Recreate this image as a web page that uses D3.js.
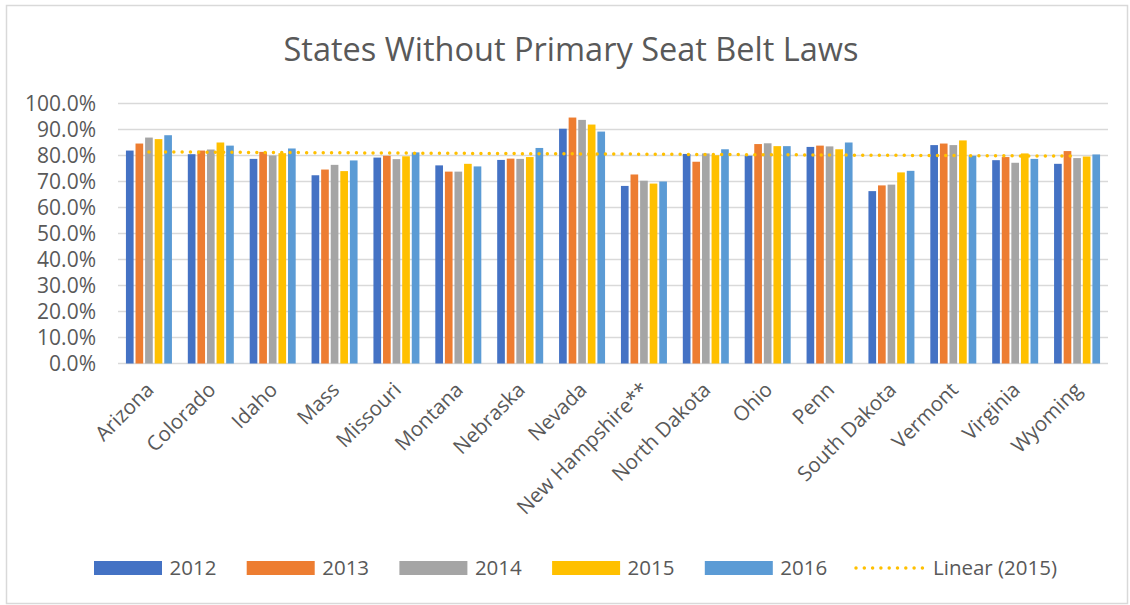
<!DOCTYPE html>
<html>
<head>
<meta charset="utf-8">
<script src="https://cdnjs.cloudflare.com/ajax/libs/d3/7.8.5/d3.min.js"></script>
<style>
	body { margin: 0; background: #fff; }
	text { font-family: "Open Sans", sans-serif; fill: #595959; }
</style>
</head>
<body>
<script>
// data (percent belted)
var states = ["Arizona", "Colorado", "Idaho", "Mass", "Missouri", "Montana", "Nebraska", "Nevada",
	"New Hampshire**", "North Dakota", "Ohio", "Penn", "South Dakota", "Vermont", "Virginia", "Wyoming"]
var years = ["2012", "2013", "2014", "2015", "2016"]
var colors = ["#4472C4", "#ED7D31", "#A5A5A5", "#FFC000", "#5B9BD5"]

var v2012 = [81.9, 80.5, 78.7, 72.4, 79.2, 76.2, 78.3, 90.3, 68.3, 80.6, 79.9, 83.3, 66.3, 84.0, 78.2, 76.8]
var v2013 = [84.6, 81.9, 81.4, 74.6, 79.9, 73.8, 78.8, 94.6, 72.7, 77.6, 84.4, 83.8, 68.5, 84.6, 79.4, 81.7]
var v2014 = [86.9, 82.3, 80.0, 76.4, 78.6, 73.8, 78.7, 93.7, 70.3, 80.8, 84.7, 83.5, 68.8, 84.0, 77.2, 79.0]
var v2015 = [86.3, 85.0, 80.9, 74.0, 79.7, 76.8, 79.4, 91.9, 69.2, 80.1, 83.6, 82.4, 73.5, 85.8, 80.8, 79.6]
var v2016 = [87.8, 83.8, 82.7, 78.1, 81.2, 75.8, 82.9, 89.2, 70.0, 82.4, 83.6, 85.0, 74.1, 79.9, 78.7, 80.4]
var yTicks = [0, 10, 20, 30, 40, 50, 60, 70, 80, 90, 100]

var series = [v2012, v2013, v2014, v2015, v2016]

var w = 1130
var h = 605

var svg = d3.select("body")
	.append("svg")
	.attr("width", w)
	.attr("height", h)

// chart frame
svg.append("rect")
	.attr("x", 6.5).attr("y", 5.5)
	.attr("width", 1121).attr("height", 598)
	.attr("fill", "#fff")
	.attr("stroke", "#d9d9d9")
	.attr("stroke-width", 1.5)

svg.append("text")
	.attr("x", 571).attr("y", 61)
	.attr("text-anchor", "middle")
	.style("font-size", "32.5px")
	.text("States Without Primary Seat Belt Laws")

var x = d3.scaleBand().domain(states).range([118, 1108]).padding(0)
var cw = x.bandwidth()
var xi = d3.scaleBand().domain(years).range([cw / 2 - 23, cw / 2 + 23]).paddingInner(0.2)
var y = d3.scaleLinear().domain([0, 100]).range([363.5, 103.5])

// gridlines
svg.append("g").selectAll("line")
	.data(yTicks)
	.enter()
	.append("line")
	.attr("x1", 118).attr("x2", 1108)
	.attr("y1", function(d){ return y(d) })
	.attr("y2", function(d){ return y(d) })
	.attr("stroke", "#d9d9d9")
	.attr("stroke-width", 1.5)

// y axis labels
var yAxis = d3.axisLeft(y)
	.tickValues(yTicks)
	.tickSize(0)
	.tickPadding(0)
	.tickFormat(function(d){ return d3.format(".1f")(d) + "%" })
var gy = svg.append("g").attr("transform", "translate(96,0)").call(yAxis)
gy.select(".domain").remove()
gy.selectAll("text").style("font-size", "21px").attr("fill", "#595959")

// bars
var groups = svg.append("g").selectAll("g")
	.data(states)
	.enter()
	.append("g")
	.attr("transform", function(d){ return "translate(" + x(d) + ",0)" })

groups.selectAll("rect")
	.data(function(d, i){ return years.map(function(yr, k){ return {year: yr, k: k, v: series[k][i]} }) })
	.enter()
	.append("rect")
	.attr("x", function(d){ return xi(d.year) })
	.attr("y", function(d){ return y(d.v) })
	.attr("width", xi.bandwidth())
	.attr("height", function(d){ return y(0) - y(d.v) })
	.attr("fill", function(d){ return colors[d.k] })

// x axis labels
svg.append("g").selectAll("text")
	.data(states)
	.enter()
	.append("text")
	.attr("text-anchor", "end")
	.attr("transform", function(d){
		return "translate(" + (x(d) + cw / 2 + 1) + ",386) rotate(-45)"
	})
	.attr("dy", "0.35em")
	.style("font-size", "20.5px")
	.text(function(d){ return d })

// linear trendline of 2015
var n = v2015.length
var mx = d3.mean(v2015, function(d, i){ return i + 1 })
var my = d3.mean(v2015)
var sxy = 0, sxx = 0
v2015.forEach(function(d, i){
	sxy += (i + 1 - mx) * (d - my)
	sxx += (i + 1 - mx) * (i + 1 - mx)
})
var slope = sxy / sxx
var icpt = my - slope * mx
var trend = [1, n].map(function(t){ return {s: states[t - 1], v: icpt + slope * t} })

svg.append("path")
	.datum(trend)
	.attr("d", d3.line()
		.x(function(d){ return x(d.s) + cw / 2 })
		.y(function(d){ return y(d.v) }))
	.attr("fill", "none")
	.attr("stroke", "#FFC000")
	.attr("stroke-width", 3.5)
	.attr("stroke-linecap", "round")
	.attr("stroke-dasharray", "0,8.3")

// legend
var legend = svg.append("g")
var lx = d3.scaleLinear().domain([0, 1]).range([94, 246.7])
years.forEach(function(yr, k){
	var g = legend.append("g").attr("transform", "translate(" + lx(k) + ",561)")
	g.append("rect").attr("width", 68).attr("height", 14).attr("fill", colors[k])
	g.append("text").attr("x", 75.5).attr("y", 7).attr("dy", "0.35em")
		.style("font-size", "20.5px").text(yr)
})
var lg = legend.append("g").attr("transform", "translate(856,568)")
lg.append("line").attr("x1", 0).attr("x2", 67)
	.attr("stroke", "#FFC000").attr("stroke-width", 3.5)
	.attr("stroke-linecap", "round").attr("stroke-dasharray", "0,8.3")
lg.append("text").attr("x", 77).attr("dy", "0.35em")
	.style("font-size", "20.5px").text("Linear (2015)")
</script>
</body>
</html>
